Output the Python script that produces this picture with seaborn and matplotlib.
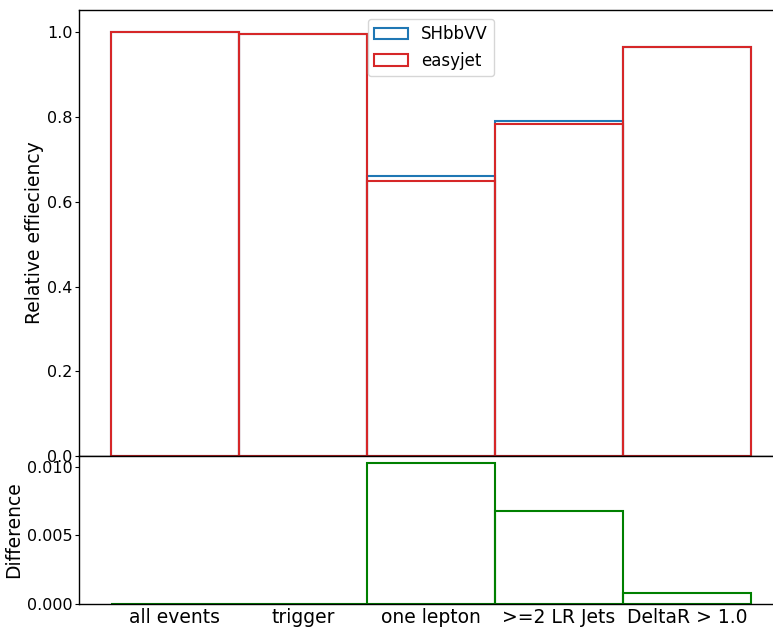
import numpy as np
import pandas as pd
import matplotlib
matplotlib.use("Agg")
import matplotlib.pyplot as plt
import seaborn as sns

# cutflow steps
cuts = ["all events", "trigger", "one lepton", ">=2 LR Jets", "DeltaR > 1.0"]

# relative efficiencies
shbbvv = [1.0, 0.995, 0.660, 0.790, 0.9655]
easyjet = [1.0, 0.99497, 0.6497, 0.7832, 0.9647]
difference = [0.0, 0.00003, 0.0103, 0.0068, 0.0008]

pos = np.arange(len(cuts))
df = pd.DataFrame({"pos": pos, "SHbbVV": shbbvv, "easyjet": easyjet, "diff": difference})

sns.set_style("ticks")
plt.rcParams["font.family"] = ["DejaVu Sans"]
plt.rcParams["text.color"] = "black"
plt.rcParams["axes.labelcolor"] = "black"
plt.rcParams["xtick.color"] = "black"
plt.rcParams["ytick.color"] = "black"

fig = plt.figure(figsize=(7.73, 6.27), dpi=100)
ax1 = fig.add_axes([0.102, 0.2727, 0.911, 0.711])
ax2 = fig.add_axes([0.102, 0.0367, 0.911, 0.236], sharex=ax1)

# top panel: efficiencies as outlined bars
sns.histplot(data=df, x="pos", weights="SHbbVV", discrete=True, element="bars", fill=False,
             color="#1f77b4", linewidth=1.5, label="SHbbVV", ax=ax1)
sns.histplot(data=df, x="pos", weights="easyjet", discrete=True, element="bars", fill=False,
             color="#d62728", linewidth=1.5, label="easyjet", ax=ax1)
ax1.set_ylabel("Relative effieciency", fontsize=13.5)
ax1.yaxis.set_label_coords(-0.049, 0.5)
ax1.set_xlabel("")
ax1.set_ylim(0, 1.052)
ax1.set_yticks([0.0, 0.2, 0.4, 0.6, 0.8, 1.0])
ax1.tick_params(axis="y", labelsize=11.5, length=3, pad=1.5)
ax1.tick_params(axis="x", labelbottom=False, length=0)
ax1.legend(loc="upper center", fontsize=12)

# bottom panel: difference
sns.histplot(data=df, x="pos", weights="diff", discrete=True, element="bars", fill=False,
             color="green", linewidth=1.5, ax=ax2)
ax2.set_ylabel("Difference", fontsize=13.5)
ax2.yaxis.set_label_coords(-0.079, 0.5)
ax2.set_xlabel("")
ax2.set_ylim(0, 0.0108)
ax2.set_yticks([0.0, 0.005, 0.010])
ax2.set_yticklabels(["0.000", "0.005", "0.010"])
ax2.set_xlim(-0.75, 4.75)
ax2.set_xticks(pos)
ax2.set_xticklabels(cuts, fontsize=13.5)
ax2.tick_params(axis="y", labelsize=11.5, length=3, pad=1.5)
ax2.tick_params(axis="x", length=0, pad=3)

for ax in (ax1, ax2):
    for s in ax.spines.values():
        s.set_color("black")
        s.set_linewidth(1.0)
    ax.spines["right"].set_visible(False)

fig.savefig("out.png", dpi=100)
